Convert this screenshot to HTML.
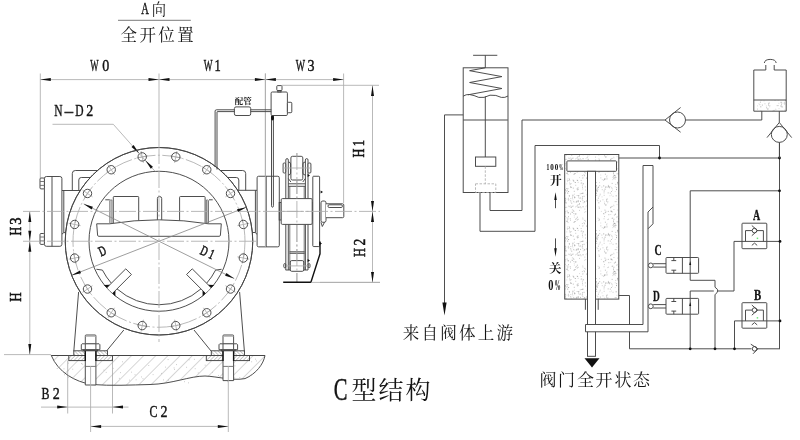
<!DOCTYPE html>
<html lang="zh"><head><meta charset="utf-8"><title>C型结构</title>
<style>
html,body{margin:0;padding:0;background:#fff;}
body{width:800px;height:440px;overflow:hidden;font-family:"Liberation Serif",serif;}
svg{display:block;}
#main{filter:grayscale(1);}
.d{fill:none;stroke:#444444;stroke-width:.95;}
.w{fill:#fff;stroke:#444444;stroke-width:.95;}
.m{fill:none;stroke:#6a6a6a;stroke-width:.9;}
.n{fill:none;stroke:#858585;stroke-width:.8;}
.l{fill:none;stroke:#acacac;stroke-width:.85;}
.c{fill:none;stroke:#acacac;stroke-width:.85;stroke-dasharray:17 2.5 2 2.5;}
.k{fill:none;stroke:#111;stroke-width:1.4;}
.a{fill:#111;stroke:none;}
.t{fill:#141414;stroke:#141414;stroke-width:.42;font-family:"Liberation Serif",serif;}
.cj{fill:#141414;font-family:"Liberation Serif","Noto Serif CJK SC",serif;}
.s{fill:#fff;stroke:#444444;stroke-width:1;}
</style></head><body>
<svg width="800" height="440" viewBox="0 0 800 440">
<defs>
<pattern id="stip" width="54" height="48" patternUnits="userSpaceOnUse"><path d="M42.1,4.8h.9M34.7,29.5h.9M1.0,25.3h.9M10.2,11.8h.9M35.2,22.0h.9M37.6,15.3h.9M50.8,40.4h.9M52.0,19.2h.9M33.4,37.1h.9M40.2,6.0h.9M10.3,34.9h.9M17.6,14.4h.9M5.0,27.9h.9M46.0,9.0h.9M48.2,39.0h.9M32.1,20.3h.9M2.2,45.8h.9M31.7,14.3h.9M38.2,3.6h.9M15.0,43.7h.9M36.7,28.0h.9M37.2,45.8h.9M17.0,47.6h.9M23.5,40.0h.9M13.7,0.9h.9M36.0,10.0h.9M31.0,15.3h.9M37.8,45.2h.9M9.1,21.7h.9M52.1,21.8h.9M1.9,41.6h.9M37.6,27.3h.9M42.0,1.3h.9M12.7,7.0h.9M37.9,8.9h.9M42.0,43.2h.9M49.4,34.5h.9M1.7,38.6h.9M41.8,7.0h.9M50.3,4.5h.9M44.8,42.9h.9M26.8,29.0h.9M14.4,22.7h.9M25.4,15.4h.9M32.8,44.1h.9M41.3,1.5h.9M19.0,29.7h.9M28.1,7.9h.9M47.9,15.3h.9M47.1,6.7h.9M38.6,12.6h.9M48.3,46.1h.9M36.4,9.3h.9M27.4,27.2h.9M52.5,44.1h.9M21.6,9.6h.9M33.9,29.9h.9M13.8,19.4h.9M10.5,18.1h.9M2.6,44.3h.9M15.8,1.1h.9M25.4,46.3h.9M24.3,10.0h.9M35.5,21.9h.9M39.0,11.7h.9M40.0,9.4h.9M2.3,3.3h.9M22.7,29.8h.9M28.8,3.8h.9M19.9,23.0h.9M33.1,36.7h.9M5.3,41.7h.9M36.8,13.8h.9M23.3,38.3h.9M46.7,13.7h.9M52.5,18.1h.9M11.0,20.5h.9M51.4,3.2h.9M31.0,43.3h.9M5.9,9.1h.9M12.0,9.1h.9M9.3,36.2h.9M25.7,10.8h.9M28.1,24.7h.9M52.5,31.4h.9M33.8,47.3h.9M43.6,4.3h.9M22.2,43.7h.9M16.6,15.1h.9M19.2,32.8h.9M44.0,31.3h.9M20.1,33.9h.9M30.0,22.0h.9M52.6,38.1h.9M20.9,31.9h.9M17.7,39.4h.9M44.4,28.4h.9M12.2,7.8h.9M17.7,19.9h.9M33.3,9.7h.9M29.8,26.8h.9M15.4,42.7h.9M30.5,39.6h.9M29.1,4.0h.9M42.6,1.2h.9M26.7,19.1h.9M36.9,25.2h.9M16.4,19.1h.9M30.1,43.0h.9M50.4,0.4h.9M16.0,15.7h.9M19.0,28.0h.9M1.8,42.8h.9M25.2,10.1h.9M48.9,42.7h.9M10.9,30.2h.9M46.7,2.8h.9M46.1,34.1h.9M4.4,10.9h.9M37.7,9.7h.9M31.3,11.2h.9" stroke="#adadad" stroke-width=".9" fill="none"/><path d="M24.8,24.4h.9M10.0,24.6h.9M27.6,30.6h.9M21.3,40.4h.9M11.3,43.4h.9M9.6,26.8h.9M34.2,5.9h.9M31.9,17.9h.9M50.8,23.2h.9M29.7,40.6h.9M1.1,13.1h.9M3.4,8.7h.9M30.4,6.6h.9M47.8,41.5h.9M41.9,41.2h.9M33.2,18.4h.9M32.3,4.2h.9M20.7,35.1h.9M39.8,1.8h.9M48.0,31.6h.9M48.5,41.9h.9M11.5,19.9h.9M33.4,21.5h.9M36.3,9.8h.9M9.6,0.9h.9M18.5,33.3h.9M32.6,36.1h.9M42.3,45.0h.9M18.6,4.3h.9M29.3,36.7h.9M42.4,8.6h.9M36.6,45.0h.9M29.8,15.1h.9M45.1,46.1h.9M30.5,9.9h.9M51.4,24.8h.9M42.5,27.0h.9M36.7,3.5h.9M12.2,32.8h.9M38.8,6.2h.9M13.4,9.7h.9M23.3,18.1h.9M33.5,30.5h.9M26.9,36.2h.9M5.8,2.2h.9M3.5,45.3h.9M40.6,15.8h.9M27.4,20.7h.9M33.4,19.5h.9M41.3,38.9h.9M40.7,36.5h.9M38.4,3.7h.9M25.0,0.9h.9M50.1,31.8h.9M35.0,27.3h.9M13.4,43.1h.9M27.0,46.0h.9M25.1,8.4h.9M22.4,25.3h.9M4.1,43.1h.9M32.1,5.8h.9M28.1,6.3h.9M47.3,37.4h.9M30.0,28.3h.9M35.9,26.4h.9M48.8,20.6h.9M4.6,27.0h.9M19.1,34.7h.9M6.4,33.9h.9M47.4,12.1h.9M19.5,17.5h.9M20.7,9.6h.9M27.4,26.1h.9M47.7,4.4h.9M27.7,36.5h.9M37.6,43.6h.9M50.8,30.6h.9M37.7,38.3h.9M9.7,3.3h.9M12.6,34.3h.9M29.1,39.0h.9M50.2,38.2h.9M0.8,22.7h.9M42.3,34.1h.9M8.5,7.8h.9M13.9,41.4h.9M38.0,5.0h.9M24.9,45.5h.9M43.8,10.2h.9M32.7,14.1h.9M28.7,14.5h.9M10.8,34.9h.9M37.6,8.9h.9M40.7,39.2h.9M41.9,31.6h.9M1.2,16.0h.9M34.6,5.4h.9M47.9,26.3h.9M17.6,44.3h.9M7.4,43.1h.9M39.1,18.4h.9M24.9,7.1h.9M30.3,8.6h.9M14.1,27.2h.9M7.8,45.7h.9M25.0,19.8h.9M45.3,19.7h.9M30.1,43.1h.9M47.7,35.0h.9M39.9,14.8h.9M3.9,6.3h.9M35.3,41.3h.9M42.0,6.2h.9M47.5,38.9h.9M44.4,17.1h.9M36.9,44.7h.9" stroke="#c2c2c2" stroke-width=".9" fill="none"/><path d="M5.0,38.6h.9M24.7,21.2h.9M52.9,47.4h.9M15.5,3.7h.9M5.5,3.2h.9M11.3,19.0h.9M11.5,12.6h.9M37.4,12.5h.9M47.2,46.7h.9M33.8,23.2h.9M39.1,33.6h.9M48.5,17.0h.9M52.6,41.9h.9M25.6,11.3h.9M47.3,15.8h.9M10.7,20.7h.9M26.4,39.9h.9M26.3,15.3h.9M24.2,1.6h.9M20.1,27.2h.9M34.6,10.1h.9M43.4,30.7h.9M51.8,25.7h.9M17.1,43.4h.9M27.5,34.6h.9M28.0,14.1h.9M33.9,25.1h.9M45.1,29.3h.9M12.5,35.4h.9M44.1,20.3h.9M6.9,19.4h.9M1.1,9.9h.9M9.9,10.0h.9M0.9,33.5h.9M9.8,21.8h.9M42.5,33.7h.9M26.8,46.8h.9M13.8,43.4h.9M47.5,41.9h.9M20.8,47.6h.9M1.4,29.4h.9M52.7,30.5h.9M4.2,28.6h.9M19.5,13.9h.9M29.8,13.8h.9M2.5,7.8h.9M20.8,42.8h.9M27.8,44.6h.9M24.9,46.6h.9M30.9,20.2h.9M19.2,13.2h.9M51.9,43.6h.9M18.3,35.6h.9M4.1,6.1h.9M22.6,12.6h.9M17.4,26.3h.9M36.4,14.5h.9M4.2,10.5h.9M4.5,14.7h.9M42.3,25.9h.9M29.9,8.7h.9M51.2,31.1h.9M3.6,26.2h.9M4.6,4.3h.9M7.8,35.6h.9M13.2,10.8h.9M18.0,46.1h.9M26.3,25.8h.9M43.8,31.9h.9M22.4,7.3h.9M6.3,31.0h.9M28.4,7.5h.9M0.3,39.2h.9M45.5,14.7h.9M28.0,7.8h.9M16.3,22.5h.9M50.1,27.0h.9M7.6,4.9h.9M22.7,24.5h.9M27.1,37.6h.9M32.5,7.9h.9M26.6,7.1h.9M52.3,24.8h.9M13.1,27.6h.9M48.2,47.2h.9M32.0,6.2h.9M35.0,14.9h.9M34.1,2.2h.9M36.6,36.2h.9M25.8,47.3h.9M17.1,3.0h.9M42.7,10.9h.9M12.6,31.8h.9" stroke="#d6d6d6" stroke-width=".9" fill="none"/><path d="M24.1,26.8h.9M2.4,46.8h.9M4.8,16.1h.9M11.4,13.1h.9M42.6,14.8h.9M34.1,5.1h.9M10.2,35.3h.9M10.6,45.2h.9M2.1,1.2h.9M29.0,35.2h.9M26.5,29.4h.9M34.8,38.5h.9M24.1,29.9h.9M11.5,42.9h.9M22.0,45.6h.9M23.1,38.9h.9M48.9,10.7h.9M27.3,1.1h.9M37.2,36.4h.9M32.5,3.2h.9M2.8,47.1h.9M28.2,47.5h.9M19.7,31.3h.9M48.7,44.8h.9M17.0,19.3h.9M42.8,39.8h.9M14.0,42.3h.9M18.3,26.2h.9M21.0,22.2h.9M21.7,3.8h.9M21.4,33.4h.9M44.3,9.7h.9M24.6,6.3h.9M9.7,47.0h.9M27.9,20.8h.9M3.8,43.4h.9M26.5,44.5h.9M9.3,41.9h.9M38.5,15.2h.9M19.9,31.6h.9" stroke="#969696" stroke-width=".9" fill="none"/></pattern>
<pattern id="hat" width="8.6" height="8.6" patternUnits="userSpaceOnUse" patternTransform="rotate(-45)"><line x1="0" y1="0" x2="8.6" y2="0" stroke="#9c9c9c" stroke-width=".8"/></pattern>
<pattern id="hat3" width="2.6" height="2.6" patternUnits="userSpaceOnUse" patternTransform="rotate(45)"><rect width="2.6" height="2.6" fill="#fff"/><line x1="0" y1="0" x2="2.6" y2="0" stroke="#6a6a6a" stroke-width=".7"/></pattern>
<pattern id="hat2" width="2.6" height="2.6" patternUnits="userSpaceOnUse" patternTransform="rotate(-45)"><rect width="2.6" height="2.6" fill="#fff"/><line x1="0" y1="0" x2="2.6" y2="0" stroke="#6a6a6a" stroke-width=".7"/></pattern>
</defs>
<g id="main"><rect width="800" height="440" fill="#fff"/>
<line class="l" x1="40.3" y1="73.5" x2="40.3" y2="178"/>
<line class="l" x1="159" y1="73.5" x2="159" y2="147"/>
<line class="l" x1="265.4" y1="73.5" x2="265.4" y2="247"/>
<line class="l" x1="343.6" y1="73.5" x2="343.6" y2="203"/>
<line class="l" x1="40.3" y1="79.6" x2="343.6" y2="79.6"/>
<polygon class="a" points="40.3,79.6 50.8,78.1 50.8,81.1"/>
<polygon class="a" points="159,79.6 148.5,81.1 148.5,78.1"/>
<polygon class="a" points="159,79.6 169.5,78.1 169.5,81.1"/>
<polygon class="a" points="265.4,79.6 254.9,81.1 254.9,78.1"/>
<polygon class="a" points="265.4,79.6 275.9,78.1 275.9,81.1"/>
<polygon class="a" points="343.6,79.6 333.1,81.1 333.1,78.1"/>
<line class="l" x1="282" y1="85.3" x2="379" y2="85.3"/>
<line class="l" x1="372.5" y1="85.5" x2="372.5" y2="282.4"/>
<line class="l" x1="320" y1="282.4" x2="380" y2="282.4"/>
<polygon class="a" points="372.5,85.5 374,96 371,96"/>
<polygon class="a" points="372.5,211.4 371,200.9 374,200.9"/>
<polygon class="a" points="372.5,211.4 374,221.9 371,221.9"/>
<polygon class="a" points="372.5,282.4 371,271.9 374,271.9"/>
<line class="l" x1="29.8" y1="211.4" x2="29.8" y2="354.6"/>
<line class="l" x1="4" y1="354.6" x2="51" y2="354.6"/>
<polygon class="a" points="29.8,211.4 31.3,221.9 28.3,221.9"/>
<polygon class="a" points="29.8,241.25 28.3,230.75 31.3,230.75"/>
<polygon class="a" points="29.8,241.25 31.3,251.75 28.3,251.75"/>
<polygon class="a" points="29.8,354.6 28.3,344.1 31.3,344.1"/>
<line class="l" x1="67.7" y1="360.5" x2="67.7" y2="413.5"/>
<line class="l" x1="112.5" y1="360.5" x2="112.5" y2="413.5"/>
<line class="l" x1="41" y1="407.1" x2="67.7" y2="407.1"/>
<line class="l" x1="67.7" y1="407.1" x2="112.5" y2="407.1"/>
<line class="l" x1="112.5" y1="407.1" x2="128.5" y2="407.1"/>
<polygon class="a" points="67.7,407.1 57.2,408.6 57.2,405.6"/>
<polygon class="a" points="112.5,407.1 123,405.6 123,408.6"/>
<line class="l" x1="90.6" y1="426.4" x2="228.3" y2="426.4"/>
<polygon class="a" points="90.6,426.4 101.1,424.9 101.1,427.9"/>
<polygon class="a" points="228.3,426.4 217.8,427.9 217.8,424.9"/>
<path class="d" d="M72.3,190.5 V173.5 Q72.3,170.5 75.3,170.5 H242.7 Q245.7,170.5 245.7,173.5 V190.5"/>
<path class="d" d="M78.8,190.5 V180 Q78.8,177.5 81.3,177.5 H236.3 Q238.8,177.5 238.8,180 V190.5"/>
<line class="d" x1="61.9" y1="190.5" x2="81" y2="190.5"/>
<line class="d" x1="237" y1="190.3" x2="257.1" y2="190.3"/>
<circle class="w" cx="159" cy="241.25" r="93.75"/>
<line class="d" x1="61.9" y1="234.2" x2="63.8" y2="232.6"/>
<line class="d" x1="63.8" y1="190.5" x2="63.8" y2="232.6"/>
<line class="d" x1="63.8" y1="232.6" x2="65.6" y2="232.6"/>
<line class="d" x1="252.6" y1="232.5" x2="255.4" y2="232.5"/>
<line class="d" x1="255.4" y1="190.3" x2="255.4" y2="232.5"/>
<line class="d" x1="255.4" y1="232.5" x2="257.1" y2="234.6"/>
<circle class="c" cx="159" cy="241.25" r="86"/>
<line class="l" x1="174.61" y1="162.79" x2="176.95" y2="151.02"/>
<line class="l" x1="170.29" y1="155.81" x2="181.27" y2="157.99"/>
<circle class="d" cx="175.78" cy="156.9" r="4.2"/>
<line class="l" x1="203.45" y1="174.73" x2="210.11" y2="164.75"/>
<line class="l" x1="202.12" y1="166.63" x2="211.44" y2="172.85"/>
<circle class="d" cx="206.78" cy="169.74" r="4.2"/>
<line class="l" x1="225.52" y1="196.8" x2="235.5" y2="190.14"/>
<line class="l" x1="227.4" y1="188.81" x2="233.62" y2="198.13"/>
<circle class="d" cx="230.51" cy="193.47" r="4.2"/>
<line class="l" x1="237.46" y1="225.64" x2="249.23" y2="223.3"/>
<line class="l" x1="242.26" y1="218.98" x2="244.44" y2="229.96"/>
<circle class="d" cx="243.35" cy="224.47" r="4.2"/>
<line class="l" x1="237.46" y1="256.86" x2="249.23" y2="259.2"/>
<line class="l" x1="244.44" y1="252.54" x2="242.26" y2="263.52"/>
<circle class="d" cx="243.35" cy="258.03" r="4.2"/>
<line class="l" x1="225.52" y1="285.7" x2="235.5" y2="292.36"/>
<line class="l" x1="233.62" y1="284.37" x2="227.4" y2="293.69"/>
<circle class="d" cx="230.51" cy="289.03" r="4.2"/>
<line class="l" x1="203.45" y1="307.77" x2="210.11" y2="317.75"/>
<line class="l" x1="211.44" y1="309.65" x2="202.12" y2="315.87"/>
<circle class="d" cx="206.78" cy="312.76" r="4.2"/>
<line class="l" x1="174.61" y1="319.71" x2="176.95" y2="331.48"/>
<line class="l" x1="181.27" y1="324.51" x2="170.29" y2="326.69"/>
<circle class="d" cx="175.78" cy="325.6" r="4.2"/>
<line class="l" x1="143.39" y1="319.71" x2="141.05" y2="331.48"/>
<line class="l" x1="147.71" y1="326.69" x2="136.73" y2="324.51"/>
<circle class="d" cx="142.22" cy="325.6" r="4.2"/>
<line class="l" x1="114.55" y1="307.77" x2="107.89" y2="317.75"/>
<line class="l" x1="115.88" y1="315.87" x2="106.56" y2="309.65"/>
<circle class="d" cx="111.22" cy="312.76" r="4.2"/>
<line class="l" x1="92.48" y1="285.7" x2="82.5" y2="292.36"/>
<line class="l" x1="90.6" y1="293.69" x2="84.38" y2="284.37"/>
<circle class="d" cx="87.49" cy="289.03" r="4.2"/>
<line class="l" x1="80.54" y1="256.86" x2="68.77" y2="259.2"/>
<line class="l" x1="75.74" y1="263.52" x2="73.56" y2="252.54"/>
<circle class="d" cx="74.65" cy="258.03" r="4.2"/>
<line class="l" x1="80.54" y1="225.64" x2="68.77" y2="223.3"/>
<line class="l" x1="73.56" y1="229.96" x2="75.74" y2="218.98"/>
<circle class="d" cx="74.65" cy="224.47" r="4.2"/>
<line class="l" x1="92.48" y1="196.8" x2="82.5" y2="190.14"/>
<line class="l" x1="84.38" y1="198.13" x2="90.6" y2="188.81"/>
<circle class="d" cx="87.49" cy="193.47" r="4.2"/>
<line class="l" x1="114.55" y1="174.73" x2="107.89" y2="164.75"/>
<line class="l" x1="106.56" y1="172.85" x2="115.88" y2="166.63"/>
<circle class="d" cx="111.22" cy="169.74" r="4.2"/>
<line class="l" x1="143.39" y1="162.79" x2="141.05" y2="151.02"/>
<line class="l" x1="136.73" y1="157.99" x2="147.71" y2="155.81"/>
<circle class="d" cx="142.22" cy="156.9" r="4.2"/>
<circle class="d" cx="159" cy="241.25" r="70"/>
<path class="d" d="M116.92,288.81 A63.5,63.5 0 0 0 201.08,288.81"/>
<path class="d" d="M111.44,283.33 A63.5,63.5 0 0 1 102.42,270.08 L96.42,269.28"/>
<path class="d" d="M206.56,283.33 A63.5,63.5 0 0 0 215.58,270.08 L221.58,269.28"/>
<polyline class="w" points="106.96,287.64 125.77,268.83 131.42,274.48 112.61,293.29"/>
<polygon class="a" points="106.96,287.64 103.77,284.88 109.79,284.81"/>
<polygon class="a" points="112.61,293.29 115.37,296.48 115.44,290.46"/>
<polyline class="w" points="205.39,293.29 186.58,274.48 192.23,268.83 211.04,287.64"/>
<polygon class="a" points="205.39,293.29 202.63,296.48 202.56,290.46"/>
<polygon class="a" points="211.04,287.64 214.23,284.88 208.21,284.81"/>
<path class="w" d="M113.3,224 V197.3 Q113.3,196.5 114.1,196.5 H137.9 Q138.7,196.5 138.7,197.3 V224"/>
<path class="w" d="M179.6,224 V197.3 Q179.6,196.5 180.4,196.5 H204.3 Q205.1,196.5 205.1,197.3 V224"/>
<path class="m" d="M109.8,223.6 V201 Q109.8,200 110.8,200 H111.9 V223.4"/>
<line class="l" x1="110.9" y1="200.5" x2="110.9" y2="223.5"/>
<path class="m" d="M206.4,223.4 V200 H207.5 Q208.5,200 208.5,201 V223.6"/>
<line class="l" x1="207.4" y1="200.5" x2="207.4" y2="223.5"/>
<line class="d" x1="105.3" y1="199.8" x2="109.8" y2="199.8"/>
<line class="d" x1="209" y1="199.8" x2="212.7" y2="199.8"/>
<path class="w" d="M157.4,221 V198.5 Q157.4,196.5 159.5,196.5 Q161.7,196.5 161.7,198.5 V221"/>
<path class="w" d="M96.7,223.8 H109.5 Q134,219.9 159,219.8 Q184,219.9 208.5,223.8 H221.3 L220.4,235.2 Q220.3,236.3 219.2,236.3 H98.8 Q97.7,236.3 97.6,235.2 Z"/>
<rect class="w" x="44.4" y="176.5" width="17.5" height="69.8" rx="2"/>
<line class="d" x1="52" y1="176.5" x2="52" y2="246.3"/>
<rect class="w" x="40" y="178" width="4.4" height="10.9" rx="1"/>
<line class="m" x1="40" y1="181.5" x2="44.4" y2="181.5"/>
<line class="m" x1="40" y1="185.4" x2="44.4" y2="185.4"/>
<rect class="w" x="40" y="233.5" width="4.4" height="10.9" rx="1"/>
<line class="m" x1="40" y1="237" x2="44.4" y2="237"/>
<line class="m" x1="40" y1="240.9" x2="44.4" y2="240.9"/>
<rect class="w" x="257.1" y="176.25" width="22.2" height="70.6" rx="1.5"/>
<line class="d" x1="266.2" y1="176.25" x2="266.2" y2="246.9"/>
<line class="l" x1="265.4" y1="73.5" x2="265.4" y2="247"/>
<line class="l" x1="52.5" y1="124.3" x2="113.3" y2="124.3"/>
<line class="l" x1="113.3" y1="124.3" x2="155.22" y2="171.5"/>
<polygon class="a" points="139.22,153.5 131.52,146.97 133.62,145.1"/>
<polygon class="a" points="145.22,160.3 152.92,166.84 150.83,168.7"/>
<line class="n" x1="71.65" y1="275.3" x2="246.35" y2="207.2"/>
<polygon class="a" points="71.65,275.3 80,270.55 81.01,273.16"/>
<polygon class="a" points="246.35,207.2 238,211.95 236.99,209.34"/>
<line class="n" x1="83.76" y1="203.9" x2="234.24" y2="278.6"/>
<polygon class="a" points="83.76,203.9 92.89,206.87 91.65,209.38"/>
<polygon class="a" points="234.24,278.6 225.11,275.63 226.35,273.12"/>
<polyline class="d" points="78.6,292 73.8,351.3"/>
<polyline class="d" points="239.6,292 244.4,351.3"/>
<polyline class="d" points="123.8,330 106.3,351.3"/>
<polyline class="d" points="194,330 211.3,351.3"/>
<circle class="d" cx="159" cy="241.25" r="93.75"/>
<path class="d" d="M51.3,355.5 H265 C263.5,364 256,374 245,378.6 C232,381 218,376.5 205,376 C190,376 172,384 150,384.5 C130,385 112,386 92,384.5 C75,382 58,372 51.3,355.5 Z" style="fill:url(#hat)"/>
<path class="l" d="M122.06,361.77h.7M188.79,359.81h.7M165.32,367.14h.7M67.83,370.69h.7M63.65,368.84h.7M70.25,360.27h.7M142.6,378.67h.7M81.26,363.58h.7M184,381.69h.7M173.73,367.92h.7M255.16,359.16h.7M231.13,365.24h.7M85.43,360.94h.7M118.93,378.4h.7M92.87,372.54h.7M186.34,367.31h.7M167.74,359.57h.7M68.16,363.15h.7M194.8,368.69h.7M120.09,372.64h.7M148.45,365.49h.7M218.05,375.47h.7M105.8,372.36h.7M163.14,379.88h.7M204.81,365.2h.7M255.96,360.95h.7M141.3,376.93h.7M87,370.22h.7M64,374.71h.7M211.97,372.33h.7M234.6,365.84h.7M197.84,372.86h.7M174.3,369.41h.7M227.35,381.62h.7M152.72,374.6h.7M68.38,375.54h.7M188.01,382.83h.7M223.67,365.11h.7M134.7,374.72h.7M60.6,369.54h.7M90.28,360.93h.7M68.03,377.21h.7M82.39,364.19h.7M135.75,379.79h.7M72.44,369.23h.7M168.09,380.08h.7M223.13,379.6h.7M112.8,368.38h.7M129.19,380.1h.7M251.38,361.77h.7M91.95,363.8h.7M103.6,370.12h.7M176.18,364.57h.7M56.84,368.47h.7M131.33,372.16h.7M250.43,375.26h.7M161.16,373.44h.7M193.94,359.35h.7M239.5,377.5h.7M234.4,377.95h.7"/>
<line class="d" x1="51.3" y1="355.5" x2="265" y2="355.5"/>
<rect class="d" x="68.8" y="355.5" width="43.7" height="5.1" style="fill:url(#hat2)"/>
<rect class="d" x="73.8" y="350.8" width="33.7" height="4.7" style="fill:url(#hat3)"/>
<rect class="d" x="206.3" y="355.5" width="43.2" height="5.1" style="fill:url(#hat2)"/>
<rect class="d" x="211.3" y="350.8" width="33.2" height="4.7" style="fill:url(#hat3)"/>
<rect class="w" x="85.3" y="350" width="10.6" height="35" style="stroke:none"/>
<line class="d" x1="85.3" y1="350" x2="85.3" y2="385"/>
<line class="d" x1="95.9" y1="350" x2="95.9" y2="385"/>
<line class="k" x1="85.3" y1="350.5" x2="85.3" y2="361"/>
<line class="k" x1="95.9" y1="350.5" x2="95.9" y2="361"/>
<line class="m" x1="85.3" y1="366.4" x2="95.9" y2="366.4"/>
<line class="d" x1="85.3" y1="385" x2="95.9" y2="385"/>
<rect class="w" x="85.3" y="335" width="10.6" height="9" rx="0.8"/>
<line class="l" x1="85.3" y1="336.4" x2="95.9" y2="336.4"/>
<path class="w" d="M82.1,343.8 H99.1 L99.9,344.7 V349.7 H81.3 V344.7 Z"/>
<line class="d" x1="85.3" y1="343.8" x2="85.3" y2="349.8"/>
<line class="d" x1="95.9" y1="343.8" x2="95.9" y2="349.8"/>
<rect class="w" x="83.6" y="349.8" width="14" height="1"/>
<line class="l" x1="90.6" y1="366" x2="90.6" y2="432"/>
<rect class="w" x="223" y="350" width="10.6" height="30.6" style="stroke:none"/>
<line class="d" x1="223" y1="350" x2="223" y2="380.6"/>
<line class="d" x1="233.6" y1="350" x2="233.6" y2="380.6"/>
<line class="k" x1="223" y1="350.5" x2="223" y2="361"/>
<line class="k" x1="233.6" y1="350.5" x2="233.6" y2="361"/>
<line class="m" x1="223" y1="366.4" x2="233.6" y2="366.4"/>
<line class="d" x1="223" y1="380.6" x2="233.6" y2="380.6"/>
<rect class="w" x="223" y="335" width="10.6" height="9" rx="0.8"/>
<line class="l" x1="223" y1="336.4" x2="233.6" y2="336.4"/>
<path class="w" d="M219.8,343.8 H236.8 L237.6,344.7 V349.7 H219 V344.7 Z"/>
<line class="d" x1="223" y1="343.8" x2="223" y2="349.8"/>
<line class="d" x1="233.6" y1="343.8" x2="233.6" y2="349.8"/>
<rect class="w" x="221.3" y="349.8" width="14" height="1"/>
<line class="l" x1="228.3" y1="366" x2="228.3" y2="432"/>
<line class="c" x1="159" y1="147" x2="159" y2="342"/>
<line class="c" x1="23" y1="241.25" x2="256" y2="241.25"/>
<line class="c" x1="296.9" y1="153" x2="296.9" y2="283"/>
<path class="d" d="M285.8,270 V160 Q285.8,158.6 287.05,158.6 Q288.3,158.6 288.3,160 V270"/>
<path class="d" d="M305.4,270 V160 Q305.4,158.6 306.7,158.6 Q308.0,158.6 308.0,160 V270"/>
<line class="m" x1="289.8" y1="186.3" x2="289.8" y2="270"/>
<line class="m" x1="304.2" y1="186.3" x2="304.2" y2="270"/>
<rect class="w" x="290.9" y="156.3" width="11.9" height="23.7" rx="1.6"/>
<path class="d" d="M288.3,162 Q290.6,162 290.6,164 V173 Q290.6,175 288.3,175"/>
<path class="d" d="M305.3,162 Q303,162 303,164 V173 Q303,175 305.3,175"/>
<rect class="w" x="283.1" y="163" width="2.6" height="10" rx="1"/>
<rect class="w" x="308" y="163" width="2.9" height="10" rx="1"/>
<line class="l" x1="282" y1="168" x2="312" y2="168"/>
<polyline class="d" points="288.3,178.5 290.9,182"/>
<polyline class="d" points="305.3,178.5 302.8,182"/>
<line class="d" x1="288.3" y1="183.8" x2="305.3" y2="183.8"/>
<line class="d" x1="288.3" y1="186.3" x2="305.3" y2="186.3"/>
<rect class="d" x="279.2" y="202.5" width="2" height="17.5"/>
<rect class="d" x="312.2" y="202.5" width="1" height="17.5"/>
<rect class="w" x="281.2" y="198.6" width="31" height="25.8" rx="1.2"/>
<line class="c" x1="281.2" y1="211.4" x2="312.2" y2="211.4"/>
<rect class="w" x="312.8" y="176.25" width="6.8" height="70.3" rx="0.8"/>
<line class="d" x1="289.6" y1="251.8" x2="304.6" y2="251.8"/>
<line class="d" x1="289.6" y1="253.3" x2="304.6" y2="253.3"/>
<rect class="d" x="283.8" y="263.6" width="2" height="4.2" rx="1"/>
<rect class="d" x="308" y="263.6" width="2" height="4.2" rx="1"/>
<line class="d" x1="285.6" y1="270" x2="308" y2="270"/>
<rect class="w" x="290.3" y="260.6" width="13.4" height="10.7" rx="1.4"/>
<line class="l" x1="286" y1="265.9" x2="308" y2="265.9"/>
<line class="c" x1="296.9" y1="153" x2="296.9" y2="283"/>
<rect class="w" x="321" y="201" width="5" height="21.3" rx="1.8"/>
<path class="w" d="M326,203.8 H342.6 Q343.8,203.8 343.8,205 V216.5 Q343.8,217.7 342.6,217.7 H326"/>
<rect class="d" x="328" y="204.8" width="14.4" height="2.7" rx="1.2"/>
<polygon class="a" points="307.6,174.1 310,175.6 307.6,177.1"/>
<polygon class="a" points="320.6,190.4 323,191.9 320.6,193.4"/>
<polygon class="a" points="319.6,242 322,243.5 319.6,245"/>
<polygon class="a" points="307.6,259 310,260.5 307.6,262"/>
<polyline class="d" points="321,222.3 322.3,226.5 324.5,222.3"/>
<polyline class="k" points="320,241.5 320,253.8 310.9,282.3 283.2,282.3"/>
<line class="l" x1="310.9" y1="282.4" x2="380" y2="282.4"/>
<rect class="w" x="271.1" y="92" width="16.3" height="23.5" rx="1.2"/>
<rect class="w" x="276.8" y="85.6" width="5.2" height="4.9" rx="0.8"/>
<rect class="d" x="277.8" y="90.5" width="3.2" height="1.5"/>
<rect class="w" x="287.4" y="102.3" width="4.4" height="10.4" rx="0.9"/>
<path class="d" d="M271.3,109.8 H216.4 Q215.1,109.8 215.1,111.1 V167"/>
<path class="d" d="M271.3,111.6 H217.4 Q217,111.6 217,112 V169.5"/>
<rect class="w" x="234.4" y="106.9" width="16.3" height="8.6" rx="1.6"/>
<path class="d" d="M271.5,115.5 V205.8 Q271.6,207.2 272.5,207.2 Q273.4,207.2 273.4,205.8 V115.5"/>
<ellipse class="a" cx="272.5" cy="118" rx="1.5" ry="2.4"/>
<line class="c" x1="23" y1="211.4" x2="380" y2="211.4"/>
<line class="d" x1="473.1" y1="55.3" x2="497.3" y2="55.3"/>
<line class="d" x1="485.3" y1="55.3" x2="485.3" y2="67.8"/>
<rect class="d" x="463.2" y="67.8" width="44.8" height="124.7"/>
<polyline class="d" points="485.3,67.8 469.6,70.7 501.9,76.6 469.6,82.5 501.9,88.5 468,94.8"/>
<path class="d" d="M463.2,96.2 Q466,94.2 469.4,94.5 Q474,95.2 478.8,97.4 Q484,98.4 490,95.2 Q496,94.6 501.3,97.4 Q505,98 508,96"/>
<line class="d" x1="485.3" y1="96.3" x2="485.3" y2="157"/>
<line class="d" x1="463.3" y1="120" x2="507.8" y2="120"/>
<rect class="w" x="475.5" y="157" width="20.3" height="9.3"/>
<line class="l" x1="485.3" y1="166.3" x2="485.3" y2="183.8" stroke-dasharray="2.5 1.5"/>
<rect class="l" x="475.5" y="183.8" width="20.3" height="8.7" stroke-dasharray="2.5 1.5"/>
<polyline class="d" points="463.2,114.9 444.5,114.9 444.5,304"/>
<polygon class="a" points="444.5,315.5 442.4,302.5 446.6,302.5"/>
<polyline class="d" points="480,192.5 480,231.3 535,231.3 535,145.5 659.5,145.5 659.5,158"/>
<polyline class="d" points="490,192.5 490,210.5 522,210.5 522,120 665,120"/>
<rect class="d" x="564.7" y="154.5" width="54.1" height="144.6" style="fill:url(#stip)"/>
<rect class="w" x="566.9" y="160.9" width="49.6" height="10.4" rx="0.8"/>
<rect class="w" x="587.5" y="171.3" width="8" height="185"/>
<line class="d" x1="585.4" y1="299.1" x2="585.4" y2="309.8"/>
<line class="d" x1="598.2" y1="299.1" x2="598.2" y2="309.8"/>
<polygon class="a" points="584.5,358.2 599.5,358.2 592,367.4"/>
<line class="d" x1="555.5" y1="197" x2="555.5" y2="208.2"/>
<polygon class="a" points="555.5,192.3 556.75,199.9 554.25,199.9"/>
<line class="d" x1="555.5" y1="238.4" x2="555.5" y2="250"/>
<polygon class="a" points="555.5,256.8 554.2,248.2 556.8,248.2"/>
<line class="d" x1="618.8" y1="158" x2="779.5" y2="158"/>
<polyline class="d" points="618.8,295.5 629.5,295.5 629.5,348.8 751.5,348.8"/>
<line class="d" x1="758" y1="348.8" x2="780" y2="348.8"/>
<line class="d" x1="779.5" y1="142.5" x2="779.5" y2="348.8"/>
<polyline class="d" points="779.5,190.8 690.2,190.8 690.2,280.3 715,280.3 715,287.2"/>
<path class="d" d="M715,287.2 Q718.4,289.4 717.7,291 Q717.2,292.8 715,294.8"/>
<line class="d" x1="715" y1="294.8" x2="715" y2="348.8"/>
<polyline class="d" points="690.2,298.3 690.2,291 713.8,291"/>
<polyline class="d" points="717.7,291 734,291 734,241.4 780,241.4"/>
<line class="d" x1="690.2" y1="314.2" x2="690.2" y2="348.8"/>
<polyline class="d" points="734.5,348.8 734.5,320.9 780,320.9"/>
<circle class="a" cx="659.5" cy="158" r="1.4"/>
<circle class="a" cx="779.5" cy="158" r="1.4"/>
<circle class="a" cx="779.5" cy="190.8" r="1.4"/>
<circle class="a" cx="780" cy="241.4" r="1.4"/>
<circle class="a" cx="780" cy="320.9" r="1.4"/>
<circle class="a" cx="690.2" cy="348.8" r="1.4"/>
<circle class="a" cx="715" cy="348.8" r="1.4"/>
<circle class="a" cx="734.5" cy="348.8" r="1.4"/>
<path class="w" d="M585.5,324.5 H643 V165.5 H653 V223.8 L648,228.8 V331.8 H585.5 Z"/>
<polyline class="d" points="653,207 648,212 648,228.8"/>
<rect class="w" x="666" y="257.5" width="32.6" height="15.8" rx="0.8"/>
<line class="d" x1="682.4" y1="257.5" x2="682.4" y2="273.3"/>
<circle class="w" cx="650.8" cy="265.4" r="2.4"/>
<line class="d" x1="653.2" y1="263.7" x2="666" y2="263.7"/>
<line class="d" x1="653.2" y1="267.1" x2="666" y2="267.1"/>
<line class="d" x1="673.8" y1="257.5" x2="673.8" y2="260.6"/>
<line class="d" x1="671.4" y1="260.6" x2="676.2" y2="260.6"/>
<line class="d" x1="673.8" y1="273.3" x2="673.8" y2="270.2"/>
<line class="d" x1="671.4" y1="270.2" x2="676.2" y2="270.2"/>
<line class="d" x1="690.2" y1="257.5" x2="690.2" y2="273.3"/>
<polygon class="a" points="690.2,261 691.2,265 689.2,265"/>
<rect class="w" x="666" y="298.4" width="32.6" height="15.8" rx="0.8"/>
<line class="d" x1="682.4" y1="298.4" x2="682.4" y2="314.2"/>
<circle class="w" cx="650.8" cy="306.3" r="2.4"/>
<line class="d" x1="653.2" y1="304.6" x2="666" y2="304.6"/>
<line class="d" x1="653.2" y1="308" x2="666" y2="308"/>
<line class="d" x1="673.8" y1="298.4" x2="673.8" y2="301.5"/>
<line class="d" x1="671.4" y1="301.5" x2="676.2" y2="301.5"/>
<line class="d" x1="673.8" y1="314.2" x2="673.8" y2="311.1"/>
<line class="d" x1="671.4" y1="311.1" x2="676.2" y2="311.1"/>
<line class="d" x1="690.2" y1="298.4" x2="690.2" y2="314.2"/>
<polygon class="a" points="690.2,301.9 691.2,305.9 689.2,305.9"/>
<rect class="w" x="742" y="223.2" width="24.8" height="25.5" rx="0.8"/>
<line class="d" x1="742" y1="241.4" x2="766.8" y2="241.4"/>
<polyline class="d" points="745.5,241.4 745.5,230.6 752.2,230.6"/>
<polyline class="d" points="756.8,230.6 763.4,230.6 763.4,241.4"/>
<circle class="w" cx="754.5" cy="230.6" r="2.3"/>
<polyline class="d" points="751.8,225.5 757.6,230.6 751.8,235.7"/>
<polyline class="d" points="751.8,245.4 754.5,243.1 757.2,245.4"/>
<rect class="w" x="742" y="302.7" width="24.8" height="25.5" rx="0.8"/>
<line class="d" x1="742" y1="320.9" x2="766.8" y2="320.9"/>
<polyline class="d" points="745.5,320.9 745.5,310.1 752.2,310.1"/>
<polyline class="d" points="756.8,310.1 763.4,310.1 763.4,320.9"/>
<circle class="w" cx="754.5" cy="310.1" r="2.3"/>
<polyline class="d" points="751.8,305 757.6,310.1 751.8,315.2"/>
<polyline class="d" points="751.8,324.9 754.5,322.6 757.2,324.9"/>
<circle class="w" cx="754.6" cy="348.8" r="2.3"/>
<polyline class="d" points="750.8,344.2 758,348.8 753,353.8"/>
<path class="w" d="M753.8,111.2 V70 H765.8 V65 H774.2 V70 H786.2 V111.2 Z" style="stroke:none"/>
<rect class="d" x="753.8" y="100" width="32.4" height="11.2" style="fill:url(#stip);stroke:none"/>
<line class="d" x1="753.8" y1="100" x2="786.2" y2="100"/>
<path class="d" d="M753.8,111.2 V70 H765.8 V65 M774.2,65 V70 H786.2 V111.2 H753.8"/>
<path class="d" d="M764.3,63 Q764.8,59.4 770.2,59.4 Q775.7,59.4 776.2,63"/>
<polyline class="d" points="761.8,111.2 761.8,120 685.6,120"/>
<line class="d" x1="779.3" y1="111.2" x2="779.3" y2="122.5"/>
<circle class="w" cx="677.5" cy="120" r="8"/>
<polyline class="d" points="680.6,107.5 665,120 680.6,132.2"/>
<circle class="w" cx="779.3" cy="134.4" r="8"/>
<polyline class="d" points="767,137.6 779.3,122.5 791.7,137.6"/>
<line class="d" x1="779.4" y1="142.4" x2="779.4" y2="158"/>
<text class="t" y="13.8" font-size="17.5"><tspan x="141.2" textLength="7.6" lengthAdjust="spacingAndGlyphs">A</tspan></text>
<text class="cj" x="151.8" y="15.3" font-size="15.5" textLength="14.3" lengthAdjust="spacingAndGlyphs">向</text>
<line class="m" x1="118" y1="20.3" x2="190.8" y2="20.3"/>
<text class="cj" x="120.4 139.4 158.3 177.3" y="41.4" font-size="16.5">全开位置</text>
<text class="t" y="70.7" font-size="16"><tspan x="90.2" textLength="8.3" lengthAdjust="spacingAndGlyphs">W</tspan><tspan x="102.3" textLength="7" lengthAdjust="spacingAndGlyphs">0</tspan></text>
<text class="t" y="70.7" font-size="16"><tspan x="203.7" textLength="8.8" lengthAdjust="spacingAndGlyphs">W</tspan><tspan x="214.6" textLength="6.2" lengthAdjust="spacingAndGlyphs">1</tspan></text>
<text class="t" y="70.7" font-size="16"><tspan x="295.7" textLength="9.3" lengthAdjust="spacingAndGlyphs">W</tspan><tspan x="307.5" textLength="7" lengthAdjust="spacingAndGlyphs">3</tspan></text>
<text class="t" y="116" font-size="17"><tspan x="54.2" textLength="8.3" lengthAdjust="spacingAndGlyphs">N</tspan><tspan x="64.7" textLength="8.3" lengthAdjust="spacingAndGlyphs">–</tspan><tspan x="75.2" textLength="8.3" lengthAdjust="spacingAndGlyphs">D</tspan><tspan x="86.2" textLength="7" lengthAdjust="spacingAndGlyphs">2</tspan></text>
<text class="t" y="0" font-size="16.6" transform="translate(364.3,157.5) rotate(-90)" style="stroke-width:.55"><tspan x="0" textLength="8.8" lengthAdjust="spacingAndGlyphs">H</tspan><tspan x="11.2" textLength="6.2" lengthAdjust="spacingAndGlyphs">1</tspan></text>
<text class="t" y="0" font-size="16.6" transform="translate(364.5,257) rotate(-90)" style="stroke-width:.55"><tspan x="0" textLength="9" lengthAdjust="spacingAndGlyphs">H</tspan><tspan x="11.5" textLength="6.8" lengthAdjust="spacingAndGlyphs">2</tspan></text>
<text class="t" y="0" font-size="16.2" transform="translate(20.6,235.6) rotate(-90)" style="stroke-width:.55"><tspan x="0" textLength="8.7" lengthAdjust="spacingAndGlyphs">H</tspan><tspan x="10.9" textLength="7.2" lengthAdjust="spacingAndGlyphs">3</tspan></text>
<text class="t" y="0" font-size="16.2" transform="translate(20.6,301.7) rotate(-90)" style="stroke-width:.55"><tspan x="0" textLength="9.3" lengthAdjust="spacingAndGlyphs">H</tspan></text>
<text class="t" y="399" font-size="16.8"><tspan x="41.5" textLength="8" lengthAdjust="spacingAndGlyphs">B</tspan><tspan x="52.7" textLength="7" lengthAdjust="spacingAndGlyphs">2</tspan></text>
<text class="t" y="417.3" font-size="16.8"><tspan x="149.6" textLength="7.9" lengthAdjust="spacingAndGlyphs">C</tspan><tspan x="160.5" textLength="7" lengthAdjust="spacingAndGlyphs">2</tspan></text>
<text class="t" y="4.6" font-size="14" transform="translate(102.3,250.8) rotate(-24)" style="stroke-width:.55"><tspan x="-3.4" textLength="6.8" lengthAdjust="spacingAndGlyphs">D</tspan></text>
<text class="t" y="4.6" font-size="14" transform="translate(208,252.6) rotate(24)" style="stroke-width:.55"><tspan x="-7.6" textLength="6.8" lengthAdjust="spacingAndGlyphs">D</tspan><tspan x="1.8" textLength="4.6" lengthAdjust="spacingAndGlyphs">1</tspan></text>
<text class="t" y="169.6" font-size="8.4" font-weight="bold" style="stroke-width:0.05"><tspan x="546.5" textLength="2.8" lengthAdjust="spacingAndGlyphs">1</tspan><tspan x="550.3" textLength="3.5" lengthAdjust="spacingAndGlyphs">0</tspan><tspan x="554.8" textLength="3.5" lengthAdjust="spacingAndGlyphs">0</tspan><tspan x="559.1" textLength="4.2" lengthAdjust="spacingAndGlyphs">%</tspan></text>
<text class="t" y="290.2" font-size="14.2" font-weight="bold" style="stroke-width:0"><tspan x="548.2" textLength="5.2" lengthAdjust="spacingAndGlyphs">0</tspan><tspan x="554.4" textLength="6.2" lengthAdjust="spacingAndGlyphs">%</tspan></text>
<text class="t" y="220" font-size="13.6" font-weight="bold" style="stroke-width:0.28"><tspan x="753" textLength="7.2" lengthAdjust="spacingAndGlyphs">A</tspan></text>
<text class="t" y="300.2" font-size="14" font-weight="bold" style="stroke-width:0.28"><tspan x="753.9" textLength="7.2" lengthAdjust="spacingAndGlyphs">B</tspan></text>
<text class="t" y="254.6" font-size="14" font-weight="bold" style="stroke-width:0.28"><tspan x="654.4" textLength="7.2" lengthAdjust="spacingAndGlyphs">C</tspan></text>
<text class="t" y="301.2" font-size="14" font-weight="bold" style="stroke-width:0.28"><tspan x="653" textLength="6.8" lengthAdjust="spacingAndGlyphs">D</tspan></text>
<text class="cj" x="234.7 243.3" y="104.3" font-size="8.5" font-weight="bold">配管</text>
<text class="cj" x="549.8" y="185.1" font-size="12" font-weight="bold">开</text>
<text class="cj" x="549.1" y="272.7" font-size="12.5" font-weight="bold">关</text>
<text class="cj" x="402.7 421.5 440.2 459 477.7 496.5" y="338.6" font-size="16.5">来自阀体上游</text>
<text class="cj" x="539.4 558.1 576.9 595.6 614.4 633.1" y="386.1" font-size="17">阀门全开状态</text>
<text class="t" y="399.6" font-size="31.7"><tspan x="333.8" textLength="13.7" lengthAdjust="spacingAndGlyphs">C</tspan></text>
<text class="cj" x="351.5 378.5 405.5" y="399.3" font-size="25">型结构</text>
</g>
<rect x="756.7" y="237.6" width="1.5" height="1.5" fill="#6fe87a"/>
<rect x="756.7" y="317.1" width="1.5" height="1.5" fill="#6fe87a"/>
</svg>
</body></html>
